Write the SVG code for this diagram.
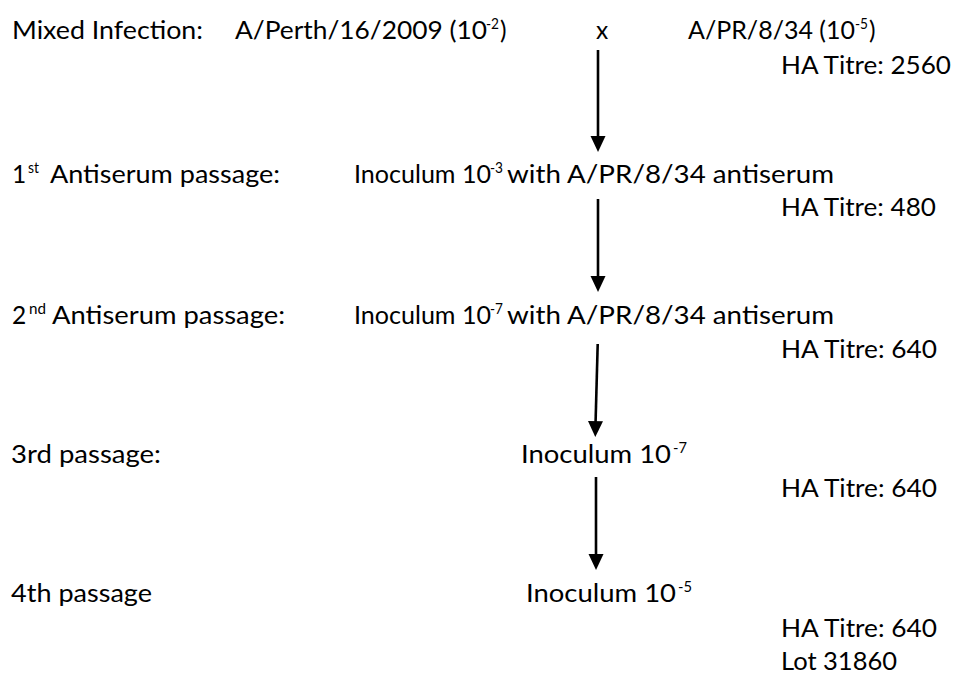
<svg xmlns="http://www.w3.org/2000/svg" width="954" height="675" viewBox="0 0 954 675">
<style>
text{font-family:Lato,"Liberation Sans",sans-serif;font-size:24.5px;fill:#000}
text.s{font-size:16px}
.ln{stroke:#000;stroke-width:2.6;fill:none}
.hd{fill:#000;stroke:none}
</style>
<rect width="954" height="675" fill="#fff"/>
<g id="labels">
  <text x="12" y="39" textLength="191" lengthAdjust="spacingAndGlyphs">Mixed Infection:</text>
  <text x="12" y="183">1</text><text class="s" x="28" y="173" textLength="11" lengthAdjust="spacingAndGlyphs">st</text>
  <text x="50" y="183" textLength="230" lengthAdjust="spacingAndGlyphs">Antiserum passage:</text>
  <text x="12" y="324">2</text><text class="s" x="29" y="314" textLength="17" lengthAdjust="spacingAndGlyphs">nd</text>
  <text x="52" y="324" textLength="233" lengthAdjust="spacingAndGlyphs">Antiserum passage:</text>
  <text x="11" y="463" textLength="150" lengthAdjust="spacingAndGlyphs">3rd passage:</text>
  <text x="11" y="602" textLength="141" lengthAdjust="spacingAndGlyphs">4th passage</text>
</g>
<g id="node-mixed">
  <text x="235" y="39" textLength="252" lengthAdjust="spacingAndGlyphs">A/Perth/16/2009 (10</text>
  <text class="s" x="486" y="29" textLength="13" lengthAdjust="spacingAndGlyphs">-2</text>
  <text x="500" y="39">)</text>
  <text x="596" y="39">x</text>
  <text x="688" y="39" textLength="167" lengthAdjust="spacingAndGlyphs">A/PR/8/34 (10</text>
  <text class="s" x="855" y="29" textLength="13" lengthAdjust="spacingAndGlyphs">-5</text>
  <text x="869" y="39">)</text>
  <text x="781" y="74" textLength="170" lengthAdjust="spacingAndGlyphs">HA Titre: 2560</text>
</g>
<g id="node-passage1">
  <text x="354" y="183" textLength="137" lengthAdjust="spacingAndGlyphs">Inoculum 10</text>
  <text class="s" x="490" y="173" textLength="13" lengthAdjust="spacingAndGlyphs">-3</text>
  <text x="507" y="183" textLength="327" lengthAdjust="spacingAndGlyphs">with A/PR/8/34 antiserum</text>
  <text x="781" y="216" textLength="155" lengthAdjust="spacingAndGlyphs">HA Titre: 480</text>
</g>
<g id="node-passage2">
  <text x="354" y="324" textLength="137" lengthAdjust="spacingAndGlyphs">Inoculum 10</text>
  <text class="s" x="490" y="314" textLength="13" lengthAdjust="spacingAndGlyphs">-7</text>
  <text x="507" y="324" textLength="327" lengthAdjust="spacingAndGlyphs">with A/PR/8/34 antiserum</text>
  <text x="781" y="358" textLength="156" lengthAdjust="spacingAndGlyphs">HA Titre: 640</text>
</g>
<g id="node-passage3">
  <text x="521" y="463" textLength="150" lengthAdjust="spacingAndGlyphs">Inoculum 10</text>
  <text class="s" x="673" y="453" textLength="14" lengthAdjust="spacingAndGlyphs">-7</text>
  <text x="781" y="497" textLength="156" lengthAdjust="spacingAndGlyphs">HA Titre: 640</text>
</g>
<g id="node-passage4">
  <text x="526" y="602" textLength="150" lengthAdjust="spacingAndGlyphs">Inoculum 10</text>
  <text class="s" x="678" y="592" textLength="14" lengthAdjust="spacingAndGlyphs">-5</text>
  <text x="781" y="637" textLength="156" lengthAdjust="spacingAndGlyphs">HA Titre: 640</text>
  <text x="781" y="670" textLength="116" lengthAdjust="spacingAndGlyphs">Lot 31860</text>
</g>
<g id="connectors">
  <line class="ln" x1="598" y1="50" x2="598" y2="140"/>
  <polygon class="hd" points="590.5,136 605.5,136 598,152"/>
  <line class="ln" x1="598" y1="199" x2="598" y2="280"/>
  <polygon class="hd" points="590.5,276 605.5,276 598,292"/>
  <line class="ln" x1="597.7" y1="344" x2="595.5" y2="425"/>
  <polygon class="hd" points="588,421 603,421.2 595.3,437"/>
  <line class="ln" x1="596" y1="477" x2="596" y2="558"/>
  <polygon class="hd" points="588.5,554 603.5,554 596,570"/>
</g>
</svg>
